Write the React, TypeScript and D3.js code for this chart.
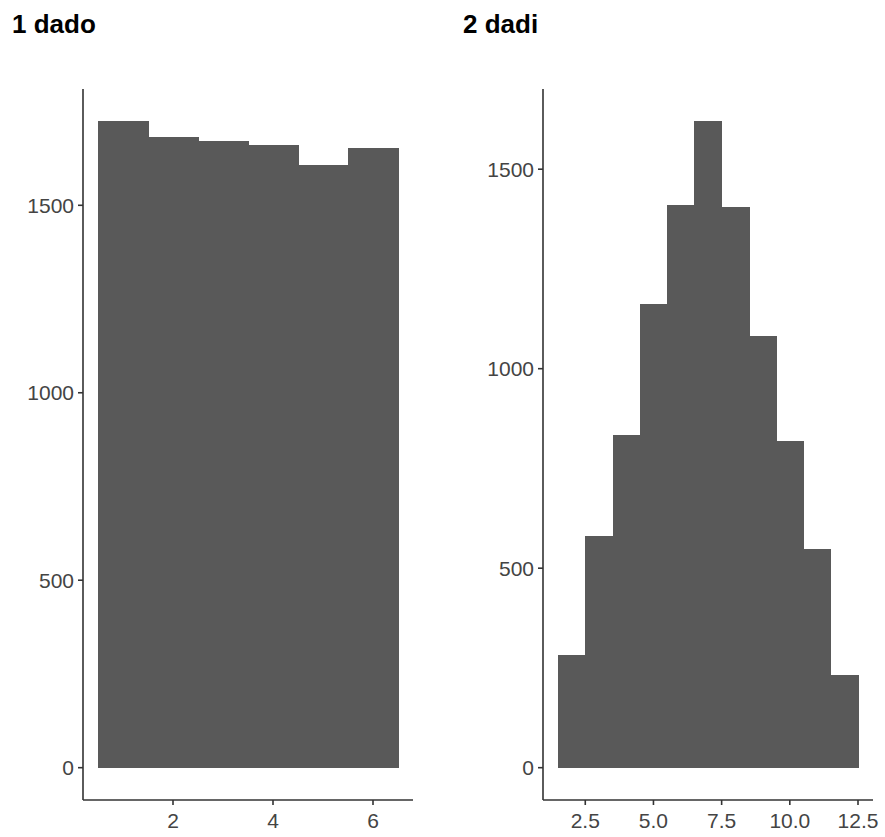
import React from "react";
import * as d3 from "d3";

const oneDieFaces = [1, 2, 3, 4, 5, 6];
const oneDieCounts = [1724, 1681, 1671, 1662, 1608, 1652];
const twoDiceSums = [2, 3, 4, 5, 6, 7, 8, 9, 10, 11, 12];
const twoDiceCounts = [283, 580, 833, 1163, 1410, 1620, 1406, 1083, 818, 548, 232];
const leftXTicks = [2, 4, 6];
const leftYTicks = [0, 500, 1000, 1500];
const rightXTicks = [2.5, 5.0, 7.5, 10.0, 12.5];
const rightYTicks = [0, 500, 1000, 1500];
const titles = ["1 dado", "2 dadi"];

const W = 885;
const H = 837;
const FONT = "'Liberation Sans', Arial, Helvetica, sans-serif";
const BAR = "#595959";
const AXIS = "#333333";
const TICKTXT = "#444444";

type PanelProps = {
  title: string;
  xs: number[];
  counts: number[];
  xTicks: number[];
  yTicks: number[];
  left: number;
  right: number;
  titleX: number;
  fmt: (v: number) => string;
};

function Panel({ title, xs, counts, xTicks, yTicks, left, right, titleX, fmt }: PanelProps) {
  const top = 89;
  const bottom = 800;
  const lo = d3.min(xs)! - 0.5;
  const hi = d3.max(xs)! + 0.5;
  const xpad = (hi - lo) * 0.05;
  const x = d3.scaleLinear().domain([lo - xpad, hi + xpad]).range([left, right]);
  const ymax = d3.max(counts)!;
  const y = d3.scaleLinear().domain([-0.05 * ymax, 1.05 * ymax]).range([bottom, top]);
  return (
    <g>
      <text x={titleX} y={33} fontFamily={FONT} fontWeight="bold" fontSize={26} fill="#000">
        {title}
      </text>
      {xs.map((v, i) => (
        <rect
          key={i}
          x={x(v - 0.5)}
          y={y(counts[i])}
          width={x(v + 0.5) - x(v - 0.5) + 0.6}
          height={y(0) - y(counts[i])}
          fill={BAR}
          shapeRendering="crispEdges"
        />
      ))}
      <line x1={left} x2={left} y1={top} y2={bottom} stroke={AXIS} strokeWidth={1.6} />
      <line x1={left} x2={right} y1={bottom} y2={bottom} stroke={AXIS} strokeWidth={1.6} />
      {yTicks.map((t) => (
        <g key={"y" + t}>
          <line x1={left - 5} x2={left} y1={y(t)} y2={y(t)} stroke={AXIS} strokeWidth={1.6} />
          <text
            x={left - 9}
            y={y(t)}
            dy="0.36em"
            textAnchor="end"
            fontFamily={FONT}
            fontSize={21}
            fill={TICKTXT}
          >
            {t}
          </text>
        </g>
      ))}
      {xTicks.map((t) => (
        <g key={"x" + t}>
          <line x1={x(t)} x2={x(t)} y1={bottom} y2={bottom + 5} stroke={AXIS} strokeWidth={1.6} />
          <text
            x={x(t)}
            y={828}
            textAnchor="middle"
            fontFamily={FONT}
            fontSize={21}
            fill={TICKTXT}
          >
            {fmt(t)}
          </text>
        </g>
      ))}
    </g>
  );
}

export default function App() {
  return (
    <svg width={W} height={H} style={{ display: "block", position: "absolute", left: 0, top: 0 }}>
      <rect width={W} height={H} fill="#fff" />
      <Panel
        title={titles[0]}
        xs={oneDieFaces}
        counts={oneDieCounts}
        xTicks={leftXTicks}
        yTicks={leftYTicks}
        left={83}
        right={413}
        titleX={12}
        fmt={(v) => String(v)}
      />
      <Panel
        title={titles[1]}
        xs={twoDiceSums}
        counts={twoDiceCounts}
        xTicks={rightXTicks}
        yTicks={rightYTicks}
        left={543}
        right={873}
        titleX={463}
        fmt={(v) => v.toFixed(1)}
      />
    </svg>
  );
}
